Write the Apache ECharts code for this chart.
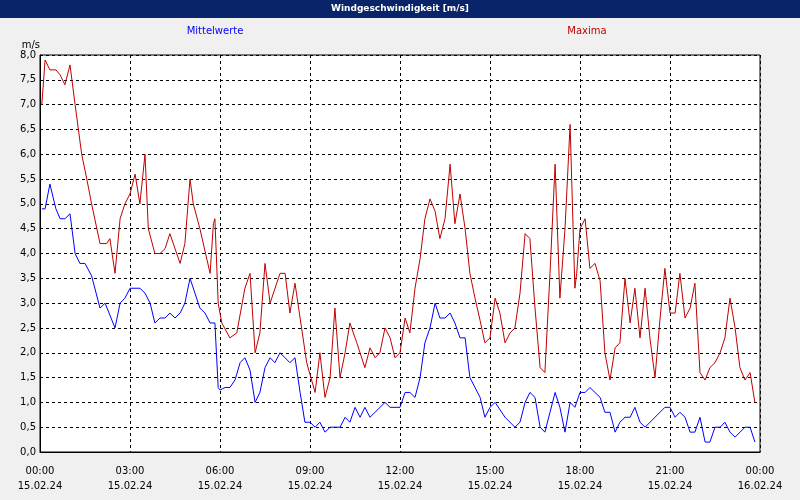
<!DOCTYPE html>
<html><head><meta charset="utf-8">
<script src="https://cdn.jsdelivr.net/npm/echarts@6/dist/echarts.min.js"></script>
<style>html,body{margin:0;padding:0;background:#f0f0f0}#c{width:800px;height:500px}</style>
</head><body><div id="c"></div>
<script>
const titleText = 'Windgeschwindigkeit [m/s]';
const seriesNames = ['Mittelwerte', 'Maxima'];
const xTickHours = [0,3,6,9,12,15,18,21,24];
const xTickLabels = ['00:00\n15.02.24','03:00\n15.02.24','06:00\n15.02.24','09:00\n15.02.24','12:00\n15.02.24','15:00\n15.02.24','18:00\n15.02.24','21:00\n15.02.24','00:00\n16.02.24'];
const meanHours = [0.06,0.17,0.33,0.53,0.67,0.83,1.0,1.17,1.33,1.5,1.72,2.0,2.17,2.5,2.67,2.83,3.0,3.33,3.5,3.67,3.83,4.0,4.17,4.33,4.5,4.67,4.83,5.0,5.33,5.5,5.67,5.83,5.94,6.0,6.17,6.33,6.5,6.67,6.83,7.0,7.17,7.33,7.5,7.67,7.83,8.0,8.33,8.5,8.67,8.83,9.0,9.17,9.33,9.5,9.67,10.0,10.17,10.33,10.5,10.67,10.83,11.0,11.5,11.67,12.0,12.17,12.33,12.5,12.67,12.83,13.0,13.17,13.33,13.5,13.67,13.83,14.0,14.17,14.33,14.5,14.67,14.83,15.0,15.17,15.5,15.83,16.0,16.17,16.33,16.5,16.67,16.83,17.0,17.17,17.33,17.5,17.67,17.83,18.0,18.17,18.33,18.67,18.83,19.0,19.17,19.33,19.5,19.67,19.83,20.0,20.17,20.83,21.0,21.17,21.33,21.5,21.67,21.83,22.0,22.17,22.33,22.5,22.67,22.83,23.0,23.17,23.5,23.67,23.83];
const meanValues = [4.9,4.9,5.4,4.9,4.7,4.7,4.8,4.0,3.8,3.8,3.55,2.9,3.0,2.5,3.0,3.1,3.3,3.3,3.2,3.0,2.6,2.7,2.7,2.8,2.7,2.8,3.0,3.5,2.9,2.8,2.6,2.6,1.3,1.25,1.3,1.3,1.45,1.8,1.9,1.65,1.0,1.2,1.7,1.9,1.8,2.0,1.8,1.9,1.2,0.6,0.6,0.5,0.6,0.4,0.5,0.5,0.7,0.6,0.9,0.7,0.9,0.7,1.0,0.9,0.9,1.2,1.2,1.1,1.5,2.2,2.5,3.0,2.7,2.7,2.8,2.6,2.3,2.3,1.5,1.3,1.1,0.7,0.9,1.0,0.7,0.5,0.6,1.0,1.2,1.1,0.5,0.4,0.8,1.2,0.9,0.4,1.0,0.9,1.2,1.2,1.3,1.1,0.8,0.8,0.4,0.6,0.7,0.7,0.9,0.6,0.5,0.9,0.9,0.7,0.8,0.7,0.4,0.4,0.7,0.2,0.2,0.5,0.5,0.6,0.4,0.3,0.5,0.5,0.2];
const maxHours = [0.06,0.17,0.33,0.53,0.67,0.83,1.0,1.17,1.39,1.56,1.72,2.0,2.22,2.33,2.5,2.67,2.83,3.0,3.17,3.33,3.5,3.61,3.83,4.0,4.17,4.33,4.67,4.83,5.0,5.11,5.33,5.67,5.78,5.83,5.94,6.06,6.33,6.56,6.83,7.0,7.17,7.33,7.5,7.67,8.0,8.17,8.33,8.5,8.67,8.89,9.17,9.33,9.5,9.67,9.83,10.0,10.17,10.33,10.56,10.83,11.0,11.17,11.33,11.5,11.67,11.83,12.0,12.17,12.33,12.5,12.67,12.83,13.0,13.17,13.33,13.5,13.67,13.83,14.0,14.17,14.33,14.5,14.67,14.83,15.0,15.17,15.33,15.5,15.67,15.83,16.0,16.17,16.33,16.5,16.67,16.83,17.0,17.17,17.33,17.5,17.67,17.78,17.83,17.89,18.0,18.17,18.33,18.5,18.67,18.83,19.0,19.17,19.33,19.5,19.67,19.83,20.0,20.17,20.33,20.5,20.67,20.83,21.0,21.17,21.33,21.5,21.67,21.83,22.0,22.17,22.33,22.5,22.67,22.83,23.0,23.17,23.33,23.5,23.67,23.83];
const maxValues = [7.0,7.9,7.7,7.7,7.6,7.4,7.8,7.0,6.0,5.5,5.0,4.2,4.2,4.3,3.6,4.7,5.0,5.2,5.6,5.0,6.0,4.5,4.0,4.0,4.1,4.4,3.8,4.2,5.5,5.0,4.5,3.6,4.6,4.7,3.0,2.6,2.3,2.4,3.3,3.6,2.0,2.4,3.8,3.0,3.6,3.6,2.8,3.4,2.7,1.8,1.2,2.0,1.1,1.5,2.9,1.5,2.0,2.6,2.2,1.7,2.1,1.9,2.0,2.5,2.3,1.9,2.0,2.7,2.4,3.3,3.9,4.7,5.1,4.85,4.3,4.7,5.8,4.6,5.2,4.5,3.6,3.1,2.65,2.2,2.3,3.1,2.8,2.2,2.4,2.5,3.2,4.4,4.3,2.9,1.7,1.6,3.6,5.8,3.1,4.5,6.6,4.3,3.3,3.6,4.5,4.7,3.7,3.8,3.45,2.0,1.45,2.1,2.2,3.5,2.6,3.3,2.3,3.3,2.3,1.5,2.7,3.7,2.8,2.8,3.6,2.7,2.9,3.4,1.6,1.45,1.7,1.8,2.0,2.3,3.1,2.5,1.7,1.45,1.6,1.0];

const chart = echarts.init(document.getElementById('c'));
const pair = (h, v) => h.map((x, i) => [x, v[i]]);
const font = '"DejaVu Sans", Verdana, sans-serif';
chart.setOption({
  animation: false,
  backgroundColor: '#f0f0f0',
  textStyle: { fontFamily: font },
  graphic: [
    { type: 'rect', shape: { x: 0, y: 0, width: 800, height: 18 }, style: { fill: '#0a246a' } },
    { type: 'text', x: 400, y: 9, style: { text: titleText, fill: '#fff', font: 'bold 9px ' + font, align: 'center', verticalAlign: 'middle' } },
    { type: 'text', x: 215, y: 31, style: { text: seriesNames[0], fill: '#0000ff', font: '10px ' + font, align: 'center', verticalAlign: 'middle' } },
    { type: 'text', x: 587, y: 31, style: { text: seriesNames[1], fill: '#c00000', font: '10px ' + font, align: 'center', verticalAlign: 'middle' } }
  ],
  grid: { left: 40, right: 40, top: 55, bottom: 48, show: true, backgroundColor: '#fff', borderColor: '#000', borderWidth: 1 },
  xAxis: {
    type: 'value', min: 0, max: 24, interval: 3,
    axisLine: { lineStyle: { color: '#000' } },
    axisTick: { show: false },
    axisLabel: { color: '#000', fontSize: 10, lineHeight: 15, margin: 12,
      formatter: v => xTickLabels[xTickHours.indexOf(v)] || '' },
    splitLine: { lineStyle: { color: '#000', type: [3, 3] } }
  },
  yAxis: {
    type: 'value', min: 0, max: 8, interval: 0.5,
    name: 'm/s', nameLocation: 'end', nameGap: 4,
    nameTextStyle: { color: '#000', fontSize: 10, align: 'right', padding: [0, 0, 0, 0] },
    axisLine: { show: true, lineStyle: { color: '#000' } },
    axisTick: { show: false },
    axisLabel: { color: '#000', fontSize: 10, margin: 4, formatter: v => v.toFixed(1).replace('.', ',') },
    splitLine: { lineStyle: { color: '#000', type: [3, 3] } }
  },
  series: [
    { name: seriesNames[0], type: 'line', data: pair(meanHours, meanValues), showSymbol: false, lineStyle: { color: '#0000ff', width: 1 }, itemStyle: { color: '#0000ff' } },
    { name: seriesNames[1], type: 'line', data: pair(maxHours, maxValues), showSymbol: false, lineStyle: { color: '#c00000', width: 1 }, itemStyle: { color: '#c00000' } }
  ]
});
</script></body></html>
